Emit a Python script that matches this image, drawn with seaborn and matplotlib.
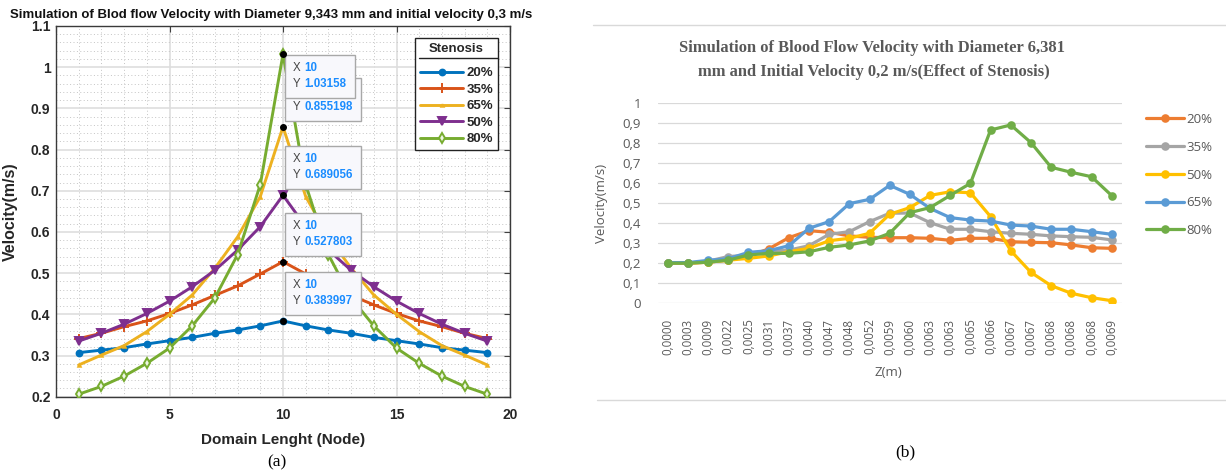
import numpy as np
import pandas as pd
import matplotlib
matplotlib.use("Agg")
import matplotlib.pyplot as plt
import seaborn as sns
from matplotlib.patches import Rectangle
from matplotlib.lines import Line2D
from matplotlib.ticker import MultipleLocator

# ---------------- data: panel (a) ----------------
nodes = list(range(1, 20))
half_20 = [0.307, 0.313, 0.319, 0.328, 0.336, 0.344, 0.354, 0.362, 0.372]
half_35 = [0.341, 0.354, 0.370, 0.384, 0.402, 0.423, 0.446, 0.469, 0.498]
half_65 = [0.277, 0.301, 0.324, 0.358, 0.400, 0.447, 0.512, 0.588, 0.686]
half_50 = [0.335, 0.354, 0.376, 0.402, 0.432, 0.467, 0.507, 0.556, 0.613]
half_80 = [0.206, 0.225, 0.250, 0.281, 0.318, 0.372, 0.440, 0.545, 0.715]
peak_20, peak_35, peak_65, peak_50, peak_80 = 0.383997, 0.527803, 0.855198, 0.689056, 1.03158
v20 = half_20 + [peak_20] + half_20[::-1]
v35 = half_35 + [peak_35] + half_35[::-1]
v65 = half_65 + [peak_65] + half_65[::-1]
v50 = half_50 + [peak_50] + half_50[::-1]
v80 = half_80 + [peak_80] + half_80[::-1]
a_labels = ["20%", "35%", "65%", "50%", "80%"]

# ---------------- data: panel (b) ----------------
z_labels = ["0,0000", "0,0003", "0,0009", "0,0022", "0,0025", "0,0031", "0,0037", "0,0040",
            "0,0047", "0,0048", "0,0052", "0,0059", "0,0060", "0,0063", "0,0063", "0,0065",
            "0,0066", "0,0067", "0,0067", "0,0068", "0,0068", "0,0068", "0,0069"]
b20 = [0.200, 0.200, 0.205, 0.215, 0.235, 0.271, 0.327, 0.362, 0.354, 0.336, 0.329, 0.327,
       0.327, 0.324, 0.314, 0.324, 0.324, 0.307, 0.304, 0.302, 0.291, 0.277, 0.274]
b35 = [0.200, 0.200, 0.210, 0.233, 0.240, 0.260, 0.265, 0.287, 0.344, 0.357, 0.407, 0.449,
       0.450, 0.402, 0.369, 0.369, 0.357, 0.349, 0.344, 0.336, 0.332, 0.329, 0.316]
b50 = [0.200, 0.200, 0.205, 0.215, 0.224, 0.236, 0.257, 0.274, 0.312, 0.324, 0.349, 0.444,
       0.477, 0.538, 0.556, 0.551, 0.432, 0.262, 0.154, 0.088, 0.050, 0.028, 0.013]
b65 = [0.203, 0.203, 0.214, 0.222, 0.254, 0.262, 0.287, 0.374, 0.407, 0.497, 0.518, 0.588,
       0.543, 0.473, 0.427, 0.415, 0.410, 0.390, 0.385, 0.369, 0.369, 0.357, 0.344]
b80 = [0.200, 0.200, 0.205, 0.215, 0.241, 0.249, 0.249, 0.257, 0.279, 0.291, 0.311, 0.349,
       0.452, 0.477, 0.538, 0.598, 0.864, 0.889, 0.801, 0.678, 0.653, 0.631, 0.537]
b_labels = ["20%", "35%", "50%", "65%", "80%"]

sns.set_style("white")
plt.rcParams["font.family"] = ["Liberation Sans", "DejaVu Sans"]

W, H = 1226, 476
fig = plt.figure(figsize=(W / 100, H / 100), dpi=100)

def fx(px):
    return px / W

def fy(py):
    return 1 - py / H

# ================= panel (a) =================
L, R, T, B = 56, 510, 26, 396.7
ax1 = fig.add_axes([fx(L), fy(B), fx(R - L), (B - T) / H])
ax1.set_xlim(0, 20)
ax1.set_ylim(0.2, 1.1)
ax1.xaxis.set_minor_locator(MultipleLocator(1))
ax1.yaxis.set_minor_locator(MultipleLocator(0.02))
ax1.grid(True, which="major", color="#dedede", lw=1.2, zorder=0)
ax1.grid(True, which="minor", color="#c4c4c4", lw=0.7, ls=(0, (1, 2.5)), zorder=0)
ax1.set_axisbelow(True)

a_colors = ["#0072BD", "#D95319", "#EDB120", "#7E2F8E", "#77AC30"]
a_markers = ["o", "+", "^", "v", "d"]
a_msize = [4.2, 6.5, 1.8, 5.5, 5.5]
a_data = [v20, v35, v65, v50, v80]
for vals, lab, c, m, ms in zip(a_data, a_labels, a_colors, a_markers, a_msize):
    mfc = "#eef6e4" if m == "d" else c
    sns.lineplot(x=nodes, y=vals, ax=ax1, color=c, lw=2.1, marker=m, markersize=ms,
                 markerfacecolor=mfc, markeredgecolor=c, markeredgewidth=1.4, label=lab,
                 zorder=3)

xt = [0, 5, 10, 15, 20]
yt = np.round(np.arange(0.2, 1.1001, 0.1), 1)
ax1.set_xticks(xt)
ax1.set_yticks(yt)
ax1.set_xticklabels([str(v) for v in xt])
ax1.set_yticklabels([("1" if v == 1 else f"{v:g}") for v in yt])
ax1.tick_params(axis="both", which="major", direction="in", length=4, top=True, right=True,
                color="#404040")
ax1.tick_params(axis="x", which="major", pad=8)
ax1.tick_params(axis="y", which="major", pad=4)
ax1.tick_params(axis="both", which="minor", length=0)
for t in ax1.get_xticklabels() + ax1.get_yticklabels():
    t.set_fontweight("bold")
    t.set_fontsize(10)
    t.set_color("#262626")
for s in ax1.spines.values():
    s.set_color("#3a3a3a")
    s.set_linewidth(1.0)

ax1.set_xlabel("Domain Lenght (Node)", fontsize=11, fontweight="bold", color="#262626")
ax1.set_ylabel("Velocity(m/s)", fontsize=11.5, fontweight="bold", color="#262626")
ax1.xaxis.set_label_coords(0.5, (B - 433) / (B - T))
ax1.yaxis.set_label_coords((18 - L) / (R - L), 0.5)
fig.text(fx(271), fy(15), "Simulation of Blod flow Velocity with Diameter 9,343 mm and initial velocity 0,3 m/s",
         ha="center", va="center", fontsize=9.5, fontweight="bold", color="#111111")

# legend
leg = ax1.legend(title="Stenosis", loc="upper right",
                 bbox_to_anchor=((498 - L) / (R - L), (B - 38) / (B - T)),
                 frameon=True, fancybox=False, edgecolor="#222222", framealpha=1,
                 prop={"weight": "bold", "size": 9.5}, title_fontproperties={"weight": "bold", "size": 9.5},
                 handlelength=3.3, handletextpad=0.25, labelspacing=0.32, borderpad=0.35,
                 borderaxespad=0)
leg._legend_box.sep = 9
leg.get_frame().set_linewidth(1.0)
ax1.plot([(419 - L) / (R - L), (498 - L) / (R - L)], [(B - 58) / (B - T)] * 2,
         transform=ax1.transAxes, color="#222222", lw=1.0, clip_on=False, zorder=10)

# data tips
dx_px = 20 / (R - L)
dy_px = 0.9 / (B - T)
tips = [(peak_65, "below", False), (peak_80, "above", True), (peak_50, "below", True),
        (peak_35, "below", True), (peak_20, "below", True)]
for i, (val, pos, show_x) in enumerate(tips):
    txt = f"{val:.6g}"
    wpx = 70 if len(txt) <= 7 else 76
    hpx = 43
    x0 = 10 + 2 * dx_px
    if pos == "above":
        ytop = val - 1 * dy_px
    else:
        ytop = val + 6 * dy_px + hpx * dy_px
    z = 6 + i
    ax1.add_patch(Rectangle((x0, ytop - hpx * dy_px), wpx * dx_px, hpx * dy_px,
                            facecolor="#f8f8fc", edgecolor="#a8a8a8", lw=1.0, zorder=z))
    if show_x:
        ax1.text(x0 + 8 * dx_px, ytop - 13 * dy_px, "X", color="#454545", fontsize=8.3,
                 va="center", ha="left", zorder=z)
        ax1.text(x0 + 19 * dx_px, ytop - 13 * dy_px, "10", color="#1a8cff", fontsize=8.3,
                 fontweight="bold", va="center", ha="left", zorder=z)
    ax1.text(x0 + 8 * dx_px, ytop - 29 * dy_px, "Y", color="#454545", fontsize=8.3, va="center",
             ha="left", zorder=z)
    ax1.text(x0 + 19 * dx_px, ytop - 29 * dy_px, txt, color="#1a8cff", fontsize=8.3,
             fontweight="bold", va="center", ha="left", zorder=z)
for val in [peak_20, peak_35, peak_65, peak_50, peak_80]:
    ax1.plot([10], [val], "o", color="black", markersize=4, zorder=12)

fig.text(fx(277), fy(462), "(a)", ha="center", va="center", fontsize=12.5,
         family="Liberation Serif", color="black")

# ================= panel (b) =================
L2, R2, T2, B2 = 657.6, 1121.8, 102.7, 303.3
ax2 = fig.add_axes([fx(L2), fy(B2), fx(R2 - L2), (B2 - T2) / H])
idx = np.arange(len(z_labels))
b_colors = ["#ED7D31", "#A5A5A5", "#FFC000", "#5B9BD5", "#70AD47"]
for vals, lab, c in zip([b20, b35, b50, b65, b80], b_labels, b_colors):
    sns.lineplot(x=idx, y=vals, ax=ax2, color=c, lw=2.3, marker="o", markersize=6.2,
                 markeredgewidth=0, label=lab, zorder=3)
ax2.set_xlim(-0.5, len(z_labels) - 0.5)
ax2.set_ylim(0, 1)
ax2.set_yticks(np.round(np.arange(0, 1.001, 0.1), 1))
ax2.set_yticklabels(["0" if v == 0 else ("1" if v == 1 else f"{v:.1f}".replace(".", ",")) for v in np.arange(0, 1.001, 0.1)])
ax2.set_xticks(idx)
ax2.set_xticklabels(z_labels, rotation=90)
ax2.grid(True, axis="y", color="#d9d9d9", lw=0.9)
ax2.grid(False, axis="x")
ax2.set_axisbelow(True)
for s in ax2.spines.values():
    s.set_visible(False)
ax2.tick_params(axis="both", length=0, labelcolor="#595959")
ax2.tick_params(axis="y", labelsize=9.5, pad=12)
ax2.tick_params(axis="x", labelsize=8.3, pad=11)
for lab in ax2.get_xticklabels() + ax2.get_yticklabels():
    lab.set_family("Open Sans")
ax2.set_xlabel("Z(m)", fontsize=9.5, color="#595959", family="Open Sans")
ax2.set_ylabel("Velocity(m/s)", fontsize=9.5, color="#595959", family="Open Sans")
ax2.xaxis.set_label_coords((888 - L2) / (R2 - L2), (B2 - 366) / (B2 - T2))
ax2.yaxis.set_label_coords((608 - L2) / (R2 - L2), 0.5)

leg2 = ax2.legend(loc="upper left", bbox_to_anchor=(fx(1146), fy(113)),
                  bbox_transform=fig.transFigure, frameon=False,
                  prop={"family": "Open Sans", "size": 9.5}, labelcolor="#595959",
                  handlelength=2.9, handletextpad=0.15, labelspacing=1.12, borderpad=0,
                  borderaxespad=0)

fig.text(fx(872), fy(48.5), "Simulation of Blood Flow Velocity with Diameter 6,381",
         ha="center", va="center", fontsize=11.9, fontweight="bold", color="#595959",
         family="Liberation Serif")
fig.text(fx(874), fy(71.5), "mm and Initial Velocity 0,2 m/s(Effect of Stenosis)",
         ha="center", va="center", fontsize=11.9, fontweight="bold", color="#595959",
         family="Liberation Serif")

fig.add_artist(Line2D([fx(593), 1.0], [fy(24.5)] * 2, color="#d9d9d9", lw=1.0))
fig.add_artist(Line2D([fx(597), 1.0], [fy(399.5)] * 2, color="#d9d9d9", lw=1.0))

fig.text(fx(905), fy(452), "(b)", ha="center", va="center", fontsize=12.5,
         family="Liberation Serif", color="black")

fig.savefig("out.png", dpi=100, facecolor="white")
